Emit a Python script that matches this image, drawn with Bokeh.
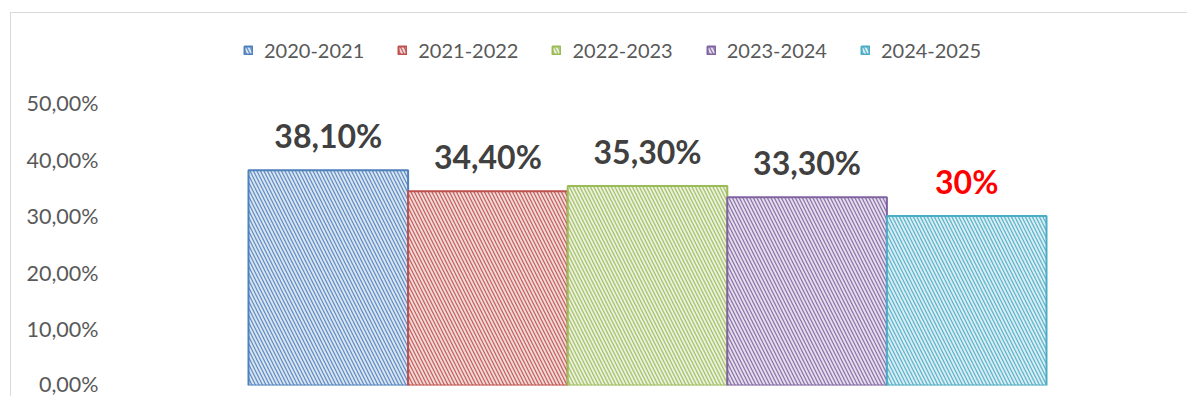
from bokeh.plotting import figure
from bokeh.models import ColumnDataSource, FixedTicker
from bokeh.core.properties import value
from bokeh.embed import file_html
from bokeh.resources import INLINE

# ---- data ----
periods = ["2020-2021", "2021-2022", "2022-2023", "2023-2024", "2024-2025"]
rates = [0.381, 0.344, 0.353, 0.333, 0.30]
rate_labels = ["38,10%", "34,40%", "35,30%", "33,30%", "30%"]
y_ticks = [0.0, 0.1, 0.2, 0.3, 0.4, 0.5]
y_tick_labels = ["0,00%", "10,00%", "20,00%", "30,00%", "40,00%", "50,00%"]

# ---- styles ----
colors = ["#4F81BD", "#C0504D", "#9BBB59", "#8064A2", "#4BACC6"]
tints = ["#DCE6F2", "#F2DCDB", "#EBF1DE", "#E6E0EC", "#DBEEF4"]
label_colors = ["#404040", "#404040", "#404040", "#404040", "#FF0000"]

src = ColumnDataSource(dict(
    x=list(range(len(periods))),
    top=rates,
    period=periods,
    label=rate_labels,
    color=colors,
    tint=tints,
    label_color=label_colors,
))

W, H = 1177, 384
FRAME_L = 100
FRAME_H = H - 12
PX_PER_UNIT = 159.6
x_start = -0.5 - (237 - FRAME_L) / PX_PER_UNIT
x_end = x_start + (W - FRAME_L) / PX_PER_UNIT

p = figure(width=W, height=H, output_backend="svg", toolbar_location=None,
           x_range=(x_start, x_end), y_range=(0, FRAME_H / 565.0),
           min_border_left=FRAME_L, min_border_right=0, min_border_top=0,
           min_border_bottom=12, x_axis_location=None)
p.margin = (12, 0, 0, 10)
p.styles = {"border-top": "1px solid #D9D9D9", "border-left": "1px solid #D9D9D9"}

p.vbar(x="x", top="top", bottom=0, width=1.0, source=src,
       fill_color="tint", line_color="color", line_width=2,
       hatch_pattern="\\", hatch_color="color", hatch_scale=7,
       hatch_weight=1.3, hatch_alpha=0.85, legend_group="period")

p.text(x="x", y="top", text="label", source=src, y_offset=-35,
       text_align="center", text_baseline="middle",
       text_font=value("Lato"), text_font_style="bold",
       text_font_size="32px", text_color="label_color")

p.outline_line_color = None
p.grid.visible = False
p.background_fill_color = "white"
p.border_fill_color = "white"

ax = p.yaxis[0]
ax.ticker = FixedTicker(ticks=y_ticks)
ax.major_label_overrides = {t: l for t, l in zip(y_ticks, y_tick_labels)}
ax.axis_line_color = None
ax.major_tick_line_color = None
ax.minor_tick_line_color = None
ax.major_tick_in = 0
ax.major_tick_out = 0
ax.major_label_standoff = 13
ax.major_label_text_font = "Lato"
ax.major_label_text_font_size = "21.5px"
ax.major_label_text_color = "#595959"

lg = p.legend[0]
lg.orientation = "horizontal"
lg.location = (132, FRAME_H - 49)
lg.spacing = 33
lg.padding = 0
lg.margin = 0
lg.border_line_color = None
lg.background_fill_alpha = 0
lg.glyph_width = 10
lg.glyph_height = 10
lg.label_standoff = 11
lg.label_text_font = "Lato"
lg.label_text_font_size = "20px"
lg.label_text_color = "#595959"

open("out.html", "w").write(file_html(p, INLINE))
